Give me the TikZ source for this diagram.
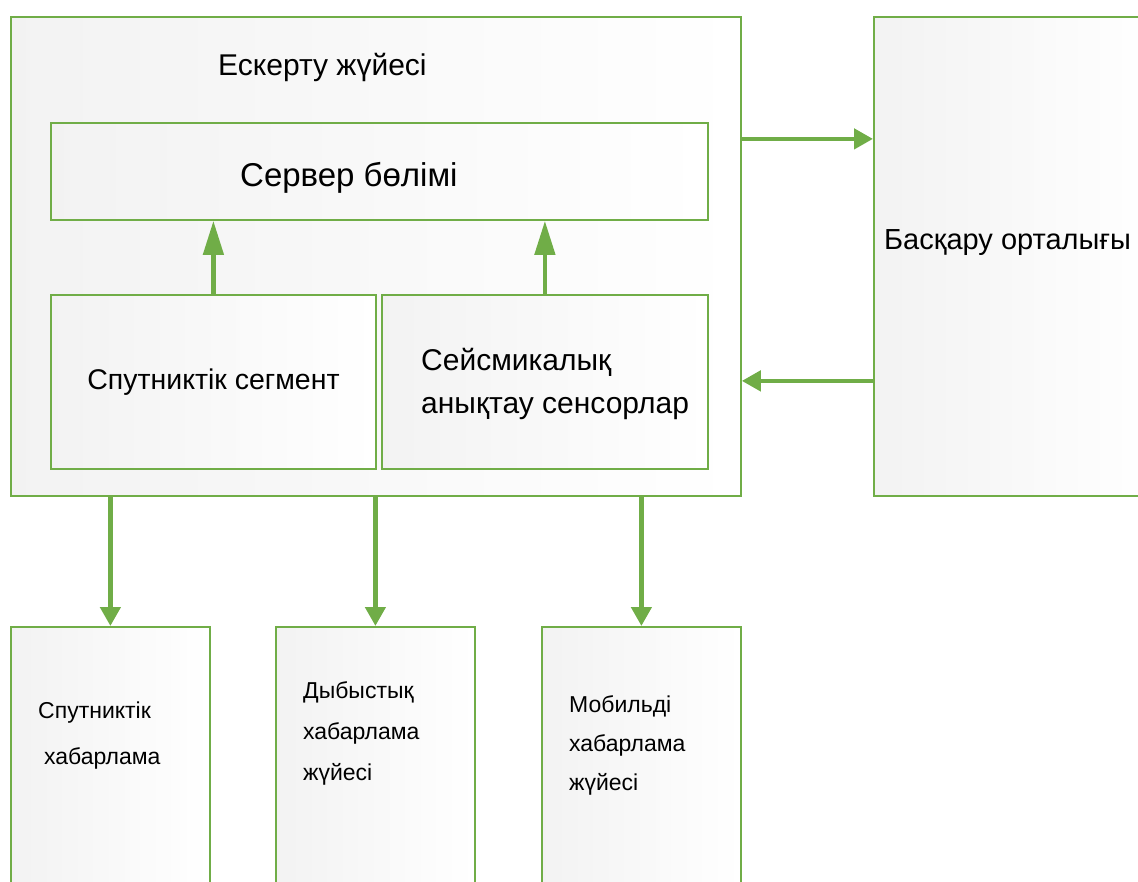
\documentclass[tikz,border=0pt]{standalone}
\usepackage{fontspec}
\setmainfont{Liberation Sans}
\usepackage{xcolor}
\usetikzlibrary{positioning, arrows.meta}

\definecolor{leafgreen}{RGB}{112,173,71}

\begin{document}
\begin{tikzpicture}[
    x=1pt, y=-1pt,
    box/.style={
        rectangle,
        draw=leafgreen,
        line width=1.8pt,
        left color=black!5,
        right color=white,
        anchor=north west,
        inner sep=0pt
    },
    txt/.style={
        inner sep=0pt,
        align=left
    },
    arrow/.style={
        leafgreen,
        line width=4.5pt,
        -{Triangle[length=19pt, width=20pt]}
    },
    uparrow/.style={
        arrow,
        -{Triangle[length=34pt, width=20pt]}
    }
]

\useasboundingbox (0,0) rectangle (1138,882);
\clip (0,0) rectangle (1138,882);

% Main nodes
\node[box, minimum width=730pt, minimum height=479pt] (alert) at (10,16) {};
\node[box, minimum width=657pt, minimum height=97pt] (server) at (50,122) {};

\node[box, minimum width=325pt, minimum height=174pt,
    font=\fontsize{28.5}{34}\selectfont] (satseg) at (50,294) {
    Спутниктік сегмент
};

\node[box, minimum width=326pt, minimum height=174pt] (seismic) at (381,294) {};

\node[box, minimum width=280pt, minimum height=479pt] (control) at (873,16) {};

% Output nodes
\node[box, minimum width=199pt, minimum height=290pt] (satmsg) at (10,626) {};
\node[box, minimum width=199pt, minimum height=290pt] (soundmsg) at (275,626) {};
\node[box, minimum width=199pt, minimum height=290pt] (mobmsg) at (541,626) {};

% Texts
\node[txt, anchor=base west, font=\fontsize{30}{36}\selectfont] (alerttitle) at (218,76) {Ескерту жүйесі};
\node[txt, anchor=base west, font=\fontsize{33}{40}\selectfont] (servertitle) at (240,187) {Сервер бөлімі};
\node[txt, anchor=base west, font=\fontsize{29}{35}\selectfont] (controltitle) at (884,250) {Басқару орталығы};

\node[txt, anchor=north west, font=\fontsize{30}{43}\selectfont] (seismictext) at (421,348) {
    Сейсмикалық\\
    анықтау сенсорлар
};

\node[txt, anchor=north west, font=\fontsize{23}{46}\selectfont] (satmsgtext) at (38,702) {
    Спутниктік\\
    \hspace*{6pt}хабарлама
};
\node[txt, anchor=north west, font=\fontsize{23}{41}\selectfont] (soundmsgtext) at (303,681) {
    Дыбыстық\\
    хабарлама\\
    жүйесі
};
\node[txt, anchor=north west, font=\fontsize{23}{39}\selectfont] (mobmsgtext) at (569,695) {
    Мобильді\\
    хабарлама\\
    жүйесі
};

% Arrows
\draw[uparrow] (satseg) -- (satseg |- server.south);
\draw[uparrow] (seismic) -- (seismic |- server.south);

\draw[arrow] ([yshift=117.5pt]alert.east) -- ([yshift=117.5pt]control.west);
\draw[arrow] ([yshift=-124.5pt]control.west) -- ([yshift=-124.5pt]alert.east);

\draw[arrow] (satmsg.north |- alert.south) -- (satmsg.north);
\draw[arrow] (soundmsg.north |- alert.south) -- (soundmsg.north);
\draw[arrow] (mobmsg.north |- alert.south) -- (mobmsg.north);

\end{tikzpicture}
\end{document}
